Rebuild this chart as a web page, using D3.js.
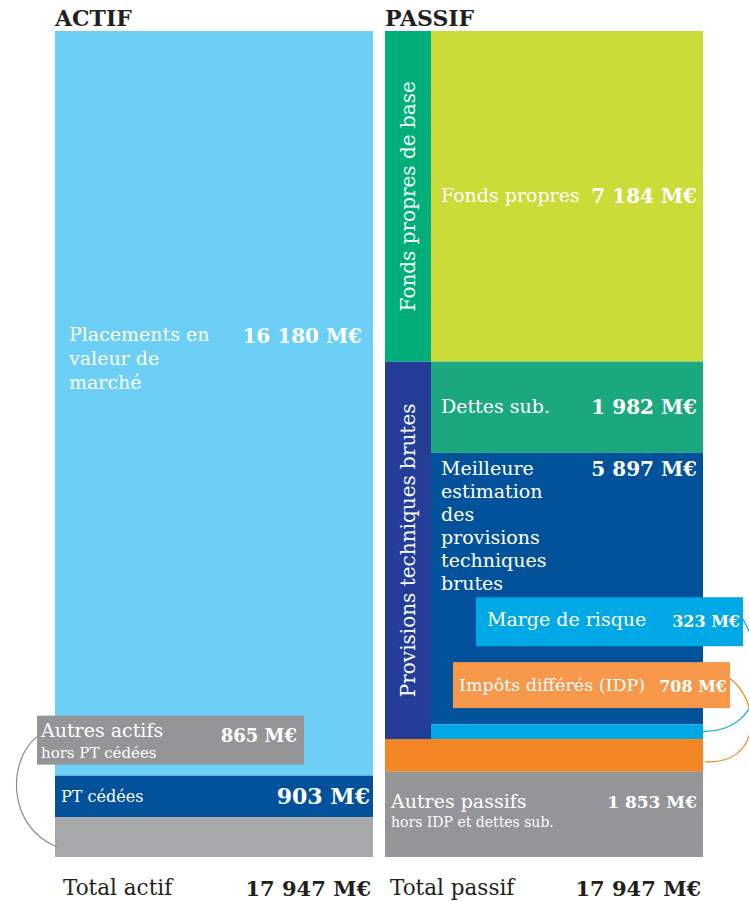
<!DOCTYPE html>
<html lang="fr">
<head>
<meta charset="utf-8">
<script src="https://cdn.jsdelivr.net/npm/d3@7"></script>
<style>
  html, body { margin: 0; padding: 0; background: #ffffff; }
  svg { display: block; }
  .lbl { font-family: "DejaVu Serif", serif; fill: #ffffff; }
  .val { font-family: "DejaVu Serif", serif; font-weight: bold; fill: #ffffff; }
</style>
</head>
<body>
<script>
// Bilan prudentiel : actif et passif en millions d'euros
const sides = ["ACTIF", "PASSIF"];

const actifCategories = ["Placements en valeur de marché", "PT cédées", "Autres actifs hors PT cédées"];
const actifValues = [16180, 903, 865];

const passifCategories = [
  "Fonds propres",
  "Dettes sub.",
  "Meilleure estimation des provisions techniques brutes",
  "Marge de risque",
  "Impôts différés (IDP)",
  "Autres passifs hors IDP et dettes sub."
];
const passifValues = [7184, 1982, 5897, 323, 708, 1853];

const totalLabels = ["Total actif", "Total passif"];
const totals = [17947, 17947];

const groupLabels = ["Fonds propres de base", "Provisions techniques brutes"];

const W = 749, H = 901;
const svg = d3.select("body").append("svg").attr("width", W).attr("height", H);

const fr = d3.formatLocale({ decimal: ",", thousands: " ", grouping: [3], currency: ["", ""] });
const fmt = v => fr.format(",")(v) + " M€";

// Stacking helper: cumulative start / end for each value
function stack(values) {
  let acc = 0;
  return values.map(v => { const s = acc; acc += v; return { v, y0: s, y1: acc }; });
}
const actif = stack(actifValues);
const passif = stack(passifValues);

const y = d3.scaleLinear()
  .domain([0, Math.max(d3.sum(actifValues), d3.sum(passifValues))])
  .range([31, 857]);

const x = d3.scaleBand().domain(sides).range([55, 703]).paddingInner(12 / 330).paddingOuter(0);
const bw = x.bandwidth();
const stripW = 46;

const colors = {
  placements: "#6ccff6", ptCedees: "#02529b", autresActifs: "#a7a8ac", autresBox: "#939598",
  fondsPropres: "#cbdb37", dettes: "#1ca87e", be: "#02529b", marge: "#00a8e6", margeBox: "#00a8e6",
  idp: "#f38624", idpBox: "#f6974a", autresPassifs: "#939598",
  stripFP: "#00ae7a", stripPT: "#243e97", dark: "#231f20"
};

// Headers
svg.selectAll("text.head").data(sides).join("text")
  .attr("class", "head")
  .attr("x", d => x(d)).attr("y", 26)
  .attr("font-family", "DejaVu Serif, serif").attr("font-weight", "900")
  .attr("font-size", 22).attr("fill", colors.dark)
  .text(d => d);

// ---------- ACTIF ----------
const xa = x("ACTIF");
const ga = svg.append("g");
const actifFills = [colors.placements, colors.ptCedees, colors.autresActifs];
ga.selectAll("rect").data(actif).join("rect")
  .attr("x", xa).attr("width", bw)
  .attr("y", d => y(d.y0)).attr("height", d => y(d.y1) - y(d.y0))
  .attr("fill", (d, i) => actifFills[i]);

// Placements
{
  const d = actif[0];
  const mid = (y(d.y0) + y(d.y1)) / 2;
  const base = mid - 62;
  const lines = ["Placements en", "valeur de", "marché"];
  ga.append("text").attr("class", "lbl").attr("font-size", 19)
    .selectAll("tspan").data(lines).join("tspan")
    .attr("x", xa + 14).attr("y", (t, i) => base + i * 24).text(t => t);
  ga.append("text").attr("class", "val").attr("font-size", 20)
    .attr("x", xa + bw - 11).attr("y", base + 2).attr("text-anchor", "end")
    .text(fmt(d.v));
}
// PT cédées
{
  const d = actif[1];
  const mid = (y(d.y0) + y(d.y1)) / 2;
  ga.append("text").attr("class", "lbl").attr("font-size", 16)
    .attr("x", xa + 6).attr("y", mid + 6).text(actifCategories[1]);
  ga.append("text").attr("class", "val").attr("font-size", 22)
    .attr("x", xa + bw - 3).attr("y", mid + 8).attr("text-anchor", "end")
    .text(fmt(d.v));
}
// Autres actifs: callout box with connector arc
{
  const d = actif[2];
  const top = y(actif[1].y0) - 60;
  const bx = xa - 18, bwid = 267, bh = 49;
  const bottom = y(d.y1);
  ga.append("path")
    .attr("d", `M${bx},${top + 21} C${bx - 30},${top + 45} ${bx - 30},${bottom - 30} ${xa + 2},${bottom - 10}`)
    .attr("fill", "none").attr("stroke", "#8a8b8e").attr("stroke-width", 1.2);
  ga.append("rect").attr("x", bx).attr("y", top).attr("width", bwid).attr("height", bh)
    .attr("fill", colors.autresBox);
  ga.append("text").attr("class", "lbl").attr("font-size", 19)
    .attr("x", bx + 4).attr("y", top + 21).text("Autres actifs");
  ga.append("text").attr("class", "lbl").attr("font-size", 15)
    .attr("x", bx + 4).attr("y", top + 42).text("hors PT cédées");
  ga.append("text").attr("class", "val").attr("font-size", 18)
    .attr("x", bx + bwid - 7).attr("y", top + 26).attr("text-anchor", "end")
    .text(fmt(d.v));
}

// ---------- PASSIF ----------
const xp = x("PASSIF");
const xi = xp + stripW;              // inner column start
const gp = svg.append("g");
const passifFills = [colors.fondsPropres, colors.dettes, colors.be, colors.marge, colors.idp, colors.autresPassifs];
// first four segments sit right of the group strips; the last two span the full column
gp.selectAll("rect.seg").data(passif).join("rect")
  .attr("class", "seg")
  .attr("x", (d, i) => i < 4 ? xi : xp)
  .attr("width", (d, i) => i < 4 ? bw - stripW : bw)
  .attr("y", d => y(d.y0)).attr("height", d => y(d.y1) - y(d.y0))
  .attr("fill", (d, i) => passifFills[i]);

// Group strips
const groups = [
  { label: groupLabels[0], y0: passif[0].y0, y1: passif[0].y1, fill: colors.stripFP },
  { label: groupLabels[1], y0: passif[1].y0, y1: passif[3].y1, fill: colors.stripPT }
];
gp.selectAll("rect.strip").data(groups).join("rect")
  .attr("class", "strip")
  .attr("x", xp).attr("width", stripW)
  .attr("y", d => y(d.y0)).attr("height", d => y(d.y1) - y(d.y0))
  .attr("fill", d => d.fill);
gp.selectAll("text.strip").data(groups).join("text")
  .attr("class", "strip lbl").attr("font-size", 20).attr("text-anchor", "middle")
  .attr("transform", d => `translate(${xp + stripW / 2 + 7},${(y(d.y0) + y(d.y1)) / 2}) rotate(-90)`)
  .text(d => d.label);

// Fonds propres, Dettes sub.
[0, 1].forEach(i => {
  const d = passif[i];
  const mid = (y(d.y0) + y(d.y1)) / 2;
  gp.append("text").attr("class", "lbl").attr("font-size", 19)
    .attr("x", xi + 10).attr("y", mid + 6).text(passifCategories[i]);
  gp.append("text").attr("class", "val").attr("font-size", 20)
    .attr("x", xp + bw - 6).attr("y", mid + 7).attr("text-anchor", "end")
    .text(fmt(d.v));
});

// Meilleure estimation
{
  const d = passif[2];
  const top = y(d.y0);
  const lines = ["Meilleure", "estimation", "des", "provisions", "techniques", "brutes"];
  gp.append("text").attr("class", "lbl").attr("font-size", 19)
    .selectAll("tspan").data(lines).join("tspan")
    .attr("x", xi + 10).attr("y", (t, k) => top + 22 + k * 23).text(t => t);
  gp.append("text").attr("class", "val").attr("font-size", 20)
    .attr("x", xp + bw - 6).attr("y", top + 23).attr("text-anchor", "end")
    .text(fmt(d.v));
}

// Marge de risque and IDP callouts
{
  const dm = passif[3], di = passif[4];
  const mTop = y(dm.y0) - 127, mx = 476, mw = 267, mh = 49;
  const iTop = y(di.y0) - 77, ix = 453, iw = 277, ih = 46;

  gp.append("path")
    .attr("d", `M${mx + mw},${mTop + 22} C${mx + mw + 28},${mTop + 70} ${mx + mw + 20},${y(dm.y1) - 8} ${xp + bw},${(y(dm.y0) + y(dm.y1)) / 2}`)
    .attr("fill", "none").attr("stroke", colors.marge).attr("stroke-width", 1.2);
  gp.append("path")
    .attr("d", `M${ix + iw - 3},${iTop + 14} C${ix + iw + 34},${iTop + 40} ${ix + iw + 30},${y(di.y1) - 6} ${xp + bw + 2},${y(di.y1) - 10}`)
    .attr("fill", "none").attr("stroke", colors.idp).attr("stroke-width", 1.2);

  gp.append("rect").attr("x", mx).attr("y", mTop).attr("width", mw).attr("height", mh).attr("fill", colors.margeBox);
  gp.append("text").attr("class", "lbl").attr("font-size", 19)
    .attr("x", mx + 11).attr("y", mTop + 29).text(passifCategories[3]);
  gp.append("text").attr("class", "val").attr("font-size", 16)
    .attr("x", mx + mw - 3).attr("y", mTop + 30).attr("text-anchor", "end").text(fmt(dm.v));

  gp.append("rect").attr("x", ix).attr("y", iTop).attr("width", iw).attr("height", ih).attr("fill", colors.idpBox);
  gp.append("text").attr("class", "lbl").attr("font-size", 17.5)
    .attr("x", ix + 6).attr("y", iTop + 29).text(passifCategories[4]);
  gp.append("text").attr("class", "val").attr("font-size", 16)
    .attr("x", ix + iw - 3).attr("y", iTop + 30).attr("text-anchor", "end").text(fmt(di.v));
}

// Autres passifs
{
  const d = passif[5];
  const top = y(d.y0);
  gp.append("text").attr("class", "lbl").attr("font-size", 19)
    .attr("x", xp + 6).attr("y", top + 36).text("Autres passifs");
  gp.append("text").attr("class", "lbl").attr("font-size", 14)
    .attr("x", xp + 6).attr("y", top + 55).text("hors IDP et dettes sub.");
  gp.append("text").attr("class", "val").attr("font-size", 17).attr("font-weight", 600)
    .attr("x", xp + bw - 6).attr("y", top + 36).attr("text-anchor", "end").text(fmt(d.v));
}

// Totals
svg.selectAll("text.tl").data(sides).join("text")
  .attr("class", "tl")
  .attr("x", d => x(d) + (d === "ACTIF" ? 8 : 5)).attr("y", 895)
  .attr("font-family", "DejaVu Serif, serif").attr("font-size", 21.5).attr("fill", colors.dark)
  .text((d, i) => totalLabels[i]);
svg.selectAll("text.tv").data(sides).join("text")
  .attr("class", "tv")
  .attr("x", d => x(d) + bw - 2).attr("y", 896).attr("text-anchor", "end")
  .attr("font-family", "DejaVu Serif, serif").attr("font-weight", "900")
  .attr("font-size", 21).attr("fill", colors.dark)
  .text((d, i) => fmt(totals[i]));
</script>
</body>
</html>
